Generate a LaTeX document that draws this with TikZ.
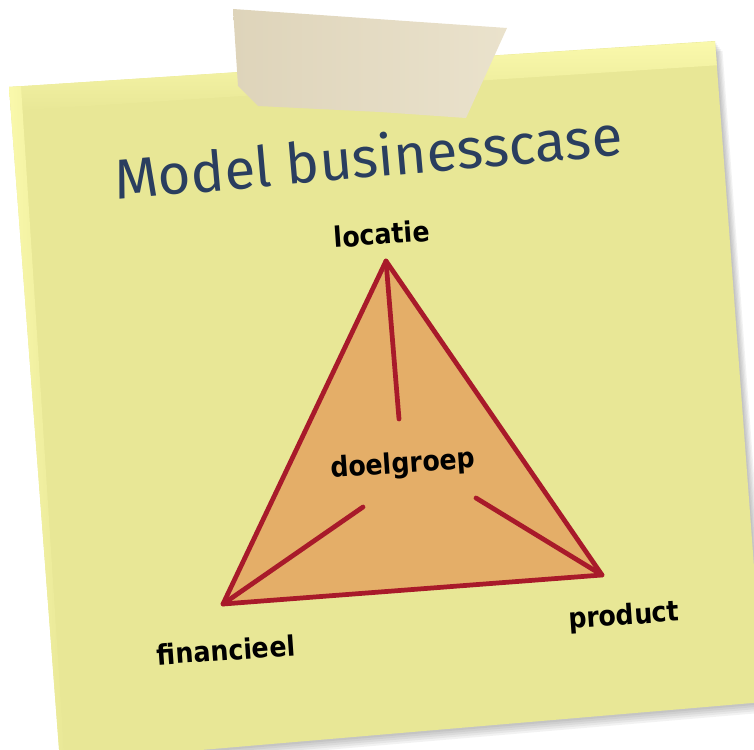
\documentclass[tikz,border=0pt]{standalone}
\usepackage{fontspec}
\usetikzlibrary{calc}
\newfontfamily\handfont{Fira Sans}
\newfontfamily\labelfont{DejaVu Sans Condensed}
\definecolor{noteyellow}{RGB}{232,231,150}
\definecolor{notelight}{RGB}{250,249,172}
\definecolor{tapebeige}{RGB}{234,226,204}
\definecolor{tapedark}{RGB}{222,212,186}
\definecolor{titleblue}{RGB}{42,62,95}
\definecolor{triorange}{RGB}{228,174,104}
\definecolor{trired}{RGB}{168,26,42}

\begin{document}
\begin{tikzpicture}
[
x=0.02cm, y=-0.02cm,
style0/.style={font=\labelfont\bfseries\fontsize{16}{19}\selectfont, text=black, rotate=4, inner sep=0pt},
style1/.style={font=\handfont\fontsize{32}{38}\selectfont, text=titleblue, rotate=5, inner sep=0pt},
style2/.style={draw=trired, line width=2.7pt, line join=round, line cap=round},
style3/.style={fill=noteyellow, draw=none}
  ]
\clip (0,0) rectangle (754,750);
% shadow of the note
\foreach \d in {1,...,5} {
  \fill[black, opacity=0.05] ($(9,87)+(\d*1.5,\d*2)$) -- ($(715,41)+(\d*1.5,\d*2)$) -- ($(764,702)+(\d*1.5,\d*2)$) -- ($(60,762)+(\d*1.5,\d*2)$) -- cycle;
}
\fill[style3] (9,87) -- (715,41) -- (764,702) -- (60,762) -- cycle;
\begin{scope}
\clip (9,87) -- (715,41) -- (764,702) -- (60,762) -- cycle;
\shade[top color=notelight, bottom color=noteyellow, shift={(9,87)}, rotate=3.7] (-10,0) rectangle (720,24);
\shade[left color=notelight, right color=noteyellow, shift={(9,87)}, rotate=3.7] (0,-10) rectangle (12,700);
\end{scope}
% tape
\shade[left color=tapedark, right color=tapebeige] (233,9) -- (320,15) -- (420,22) -- (507,28) -- (466,118) -- (380,112) -- (258,106) -- (238,86) -- cycle;

\node (title) [style1] at (368,156) {Model businesscase};

\coordinate (loc) at (386,261);
\coordinate (fin) at (223,604);
\coordinate (prod) at (602,575);
\coordinate (locend) at (399,419);
\coordinate (finend) at (363,507);
\coordinate (prodend) at (476,498);

\fill[triorange] (loc) -- (fin) -- (prod) -- cycle;
\draw[style2] (loc) -- (fin) -- (prod) -- cycle;
\draw[style2] (loc) -- (locend);
\draw[style2] (fin) -- (finend);
\draw[style2] (prod) -- (prodend);

\node (locatie) [style0] at (382,234) {locatie};
\node (doelgroep) [style0] at (403,465) {doelgroep};
\node (financieel) [style0] at (226,650) {financieel};
\node (product) [style0] at (624,617) {product};
\end{tikzpicture}
\end{document}
